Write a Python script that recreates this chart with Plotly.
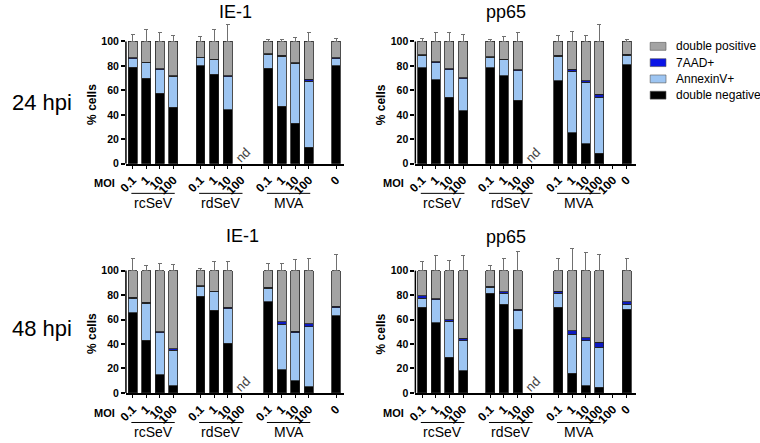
import plotly.graph_objects as go

W, H = 760, 443
def px(x): return x / W
def py(y): return 1 - y / H

# ---------------- data ----------------
positions = [0, 1, 2, 3, 5, 6, 7, 10, 11, 12, 13, 15]
ticks_ie1 = [0, 1, 2, 3, 5, 6, 7, 8, 10, 11, 12, 13, 15]
labels_ie1 = ["0.1", "1", "10", "100", "0.1", "1", "10", "100", "0.1", "1", "10", "100", "0"]
ticks_pp65 = [0, 1, 2, 3, 5, 6, 7, 8, 10, 11, 12, 13, 14, 15]
labels_pp65 = ["0.1", "1", "10", "100", "0.1", "1", "10", "100", "0.1", "1", "10", "100", "100", "0"]
groups = ["rcSeV", "rdSeV", "MVA"]
group_first = [0, 5, 10]
group_last = [3, 8, 13]
nd_position = 8
series_names = ["double negative", "AnnexinV+", "7AAD+", "double positive"]
colors = ["#000000", "#9DC5F2", "#0D1AC0", "#A3A3A3"]
legend_colors = ["#A3A3A3", "#0A14E6", "#9DC5F2", "#000000"]

# IE-1, 24 hpi
ie1_24_dn = [79, 70, 57.5, 46, 80, 73, 44, 78, 47, 33, 13.5, 80]
ie1_24_ann = [7, 12.5, 19.5, 25.5, 6.5, 12, 27, 11.5, 41, 49, 54, 6]
ie1_24_aad = [0.6, 0.6, 0.5, 0.5, 0.6, 0.5, 1, 0.5, 0.7, 0.7, 1.5, 0.6]
ie1_24_dp = [13.4, 16.9, 22.5, 28, 12.9, 14.5, 28, 10, 11.3, 17.3, 31, 13.4]
ie1_24_e_dn = [3, 4, 16, 14.5, 2, 4, 25, 10, 14.5, 14.5, 6.5, 2]
ie1_24_e_ann = [4, 4, 3.5, 13, 3, 6, 1, 8, 4, 13, 15, 3.5]
ie1_24_e_aad = [1, 7, 10, 1, 1, 9.5, 14, 1, 3, 1, 2, 1]
ie1_24_e_dp = [6, 10, 7, 4.5, 4, 10, 14, 1.5, 1.5, 3, 7, 2.5]

# pp65, 24 hpi
pp65_24_dn = [78.5, 68.5, 54.5, 43.5, 78.5, 72, 52, 68, 25.5, 16.5, 8.5, 81]
pp65_24_ann = [10, 14, 22.5, 26, 8.5, 13, 24, 20, 50, 50, 46, 7.5]
pp65_24_aad = [0.6, 0.7, 0.5, 0.7, 0.5, 0.6, 0.7, 0.5, 1.7, 1.5, 2.5, 1]
pp65_24_dp = [10.9, 16.8, 22.5, 29.8, 12.5, 14.4, 23.3, 11.5, 22.8, 32, 43, 10.5]
pp65_24_e_dn = [2, 2, 10, 22, 6, 2, 24, 1, 19.5, 15.5, 5.5, 3]
pp65_24_e_ann = [3, 2, 17, 19, 7, 5, 4, 4.5, 3, 1, 1, 1]
pp65_24_e_aad = [9, 7, 1, 1, 1, 1, 1, 8, 12.5, 10.5, 10, 7.5]
pp65_24_e_dp = [2.5, 7, 7.5, 6, 1.5, 4, 7.5, 5, 8.5, 4.5, 14, 1.5]

# IE-1, 48 hpi
ie1_48_dn = [65.5, 43, 15, 6, 79, 67.5, 40.5, 74.5, 19, 10, 5, 63]
ie1_48_ann = [12, 30.5, 34, 29, 8, 15, 28.5, 11, 37, 39, 49, 6.5]
ie1_48_aad = [0.8, 0.8, 0.8, 1, 0.6, 0.7, 1, 0.8, 2, 1.5, 2.5, 1.3]
ie1_48_dp = [21.7, 25.7, 50.2, 64, 12.4, 16.8, 30, 13.7, 42, 49.5, 43.5, 29.2]
ie1_48_e_dn = [15.5, 11, 1, 1.5, 6, 16, 19.5, 1, 14.5, 1.5, 1, 3]
ie1_48_e_ann = [3, 1, 1, 2, 8, 8.5, 2, 2, 5.5, 2, 3, 3]
ie1_48_e_aad = [5, 7, 4, 3, 1, 1, 11.5, 6.5, 12.5, 12, 10, 8]
ie1_48_e_dp = [10, 4, 5.5, 5, 2, 7.5, 7.5, 5.5, 5.5, 9, 10, 13]

# pp65, 48 hpi
pp65_48_dn = [70, 57.5, 29, 18, 81.5, 72.5, 52, 70, 16, 6, 4.5, 68.5]
pp65_48_ann = [7.5, 18.5, 29.5, 24.5, 5, 9, 15, 11.5, 32, 36.5, 33, 4]
pp65_48_aad = [1.8, 1, 1.5, 2, 0.8, 1, 1.5, 1.5, 3, 2.5, 4, 2]
pp65_48_dp = [20.7, 23, 40, 55.5, 12.7, 17.5, 31.5, 17, 49, 55, 58.5, 25.5]
pp65_48_e_dn = [1, 18.5, 7, 1, 0.5, 0.5, 15, 0.5, 11.5, 3.5, 1, 0.5]
pp65_48_e_ann = [3, 3, 2, 3, 1, 0.5, 5, 8, 3, 2, 3, 1]
pp65_48_e_aad = [2, 9, 16, 10, 1, 9, 7, 9, 5.5, 10, 8.5, 2]
pp65_48_e_dp = [7.5, 12, 8, 12, 4, 10, 16, 9.7, 18, 15, 13.5, 9.5]

# ---------------- layout geometry (pixels) ----------------
FONT = "Liberation Sans, Arial, Helvetica, sans-serif"
panels = [
    ("", [ie1_24_dn, ie1_24_ann, ie1_24_aad, ie1_24_dp],
     [ie1_24_e_dn, ie1_24_e_ann, ie1_24_e_aad, ie1_24_e_dp],
     "IE-1", ticks_ie1, labels_ie1, (119.2, 340), 166.0, [-0.5, 15.62], (230, 12)),
    ("2", [pp65_24_dn, pp65_24_ann, pp65_24_aad, pp65_24_dp],
     [pp65_24_e_dn, pp65_24_e_ann, pp65_24_e_aad, pp65_24_e_dp],
     "pp65", ticks_pp65, labels_pp65, (411.7, 634.8), 166.0, [-0.5, 15.7], (503, 12)),
    ("3", [ie1_48_dn, ie1_48_ann, ie1_48_aad, ie1_48_dp],
     [ie1_48_e_dn, ie1_48_e_ann, ie1_48_e_aad, ie1_48_e_dp],
     "IE-1", ticks_ie1, labels_ie1, (119.2, 340), 398.3, [-0.5, 15.62], (237, 239)),
    ("4", [pp65_48_dn, pp65_48_ann, pp65_48_aad, pp65_48_dp],
     [pp65_48_e_dn, pp65_48_e_ann, pp65_48_e_aad, pp65_48_e_dp],
     "pp65", ticks_pp65, labels_pp65, (411.7, 634.8), 398.3, [-0.5, 15.7], (503, 240)),
]
PX_PER_UNIT = 1.24
YMAX = 120

fig = go.Figure()
layout = dict(
    width=W, height=H, margin=dict(l=0, r=0, t=0, b=0),
    paper_bgcolor="white", plot_bgcolor="rgba(0,0,0,0)",
    barmode="stack", showlegend=False,
    font=dict(family=FONT, color="#000000"),
)
annotations = []
shapes = []
bold_y = dict(family=FONT, size=10.5, color="#000000", weight="bold")
bold_x = dict(family=FONT, size=12, color="#000000", weight="bold")

def ann(text, x, y, xref="paper", yref="paper", **kw):
    d = dict(text=text, x=x, y=y, xref=xref, yref=yref, showarrow=False,
             xanchor="center", yanchor="middle")
    d.update(kw)
    annotations.append(d)

for suffix, vals, errs, title, tvals, tlabs, xpx, zero_px, xr, tpos in panels:
    xa = "x" + suffix
    ya = "y" + suffix
    for name, v, e, c in zip(series_names, vals, errs, colors):
        ecol = "#707070" if name == "double positive" else "#202020"
        fig.add_trace(go.Bar(
            x=positions, y=v, name=name, xaxis=xa, yaxis=ya,
            width=0.66, marker=dict(color=c, line=dict(color="#222222", width=0.8)),
            error_y=dict(type="data", array=e, arrayminus=[0] * len(e), symmetric=False,
                         color=ecol, thickness=1, width=2),
        ))
    top_px = zero_px - YMAX * PX_PER_UNIT
    layout["xaxis" + suffix] = dict(
        domain=[px(xpx[0]), px(xpx[1])], anchor=ya, range=xr,
        tickvals=tvals, ticktext=tlabs, tickangle=-45,
        ticks="outside", ticklen=3, tickwidth=1.2, tickcolor="#000",
        showline=True, linecolor="#000", linewidth=1.5,
        showgrid=False, zeroline=False,
        tickfont=bold_x,
    )
    layout["yaxis" + suffix] = dict(
        domain=[py(zero_px), py(top_px)], anchor=xa, range=[0, YMAX],
        tickvals=[0, 20, 40, 60, 80, 100], ticks="outside", ticklen=4, tickwidth=1.5,
        tickcolor="#000", showline=False, showgrid=False, zeroline=False,
        tickfont=bold_y,
    )
    shapes.append(dict(type="line", xref=xa + " domain", yref=ya, x0=0, x1=0, y0=0, y1=100,
                       line=dict(color="#000", width=1.5)))
    ann(title, px(tpos[0]), py(tpos[1]), font=dict(family=FONT, size=18, color="#000"))
    ann("% cells", px(xpx[0] - 35), py(zero_px - 60), textangle=-90,
        font=dict(family=FONT, size=12, color="#000", weight="bold"))
    ann("MOI", px(xpx[0] - 22), py(zero_px + 20),
        font=dict(family=FONT, size=11, color="#000", weight="bold"))
    ann("nd", nd_position + 0.1, 6.5, xref=xa, yref=ya, textangle=-45,
        font=dict(family=FONT, size=13, color="#444"))
    line_y = zero_px + 30
    for g, a, b in zip(groups, group_first, group_last):
        shapes.append(dict(type="line", xref=xa, yref="paper", x0=a - 0.1, x1=b + 0.1,
                           y0=py(line_y), y1=py(line_y), line=dict(color="#000", width=1)))
        ann(g, (a + b) / 2, py(line_y + 9.5), xref=xa,
            font=dict(family=FONT, size=14, color="#000"))

ann("24 hpi", px(34), py(104), font=dict(family=FONT, size=22, color="#000"))
ann("48 hpi", px(34), py(333), font=dict(family=FONT, size=22, color="#000"))

legend_names = ["double positive", "7AAD+", "AnnexinV+", "double negative"]
for i, (n, c) in enumerate(zip(legend_names, legend_colors)):
    yc = 47 + i * 16.5
    shapes.append(dict(type="rect", xref="paper", yref="paper", x0=px(649), x1=px(665),
                       y0=py(yc + 4), y1=py(yc - 4), fillcolor=c, line=dict(color="#555", width=0.6)))
    ann(n, px(673), py(yc), xanchor="left", font=dict(family=FONT, size=12, color="#000"))

layout["annotations"] = annotations
layout["shapes"] = shapes
fig.update_layout(**layout)
fig.write_html("out.html", config={"displayModeBar": False},
               post_script="document.body.style.margin='0px';")
